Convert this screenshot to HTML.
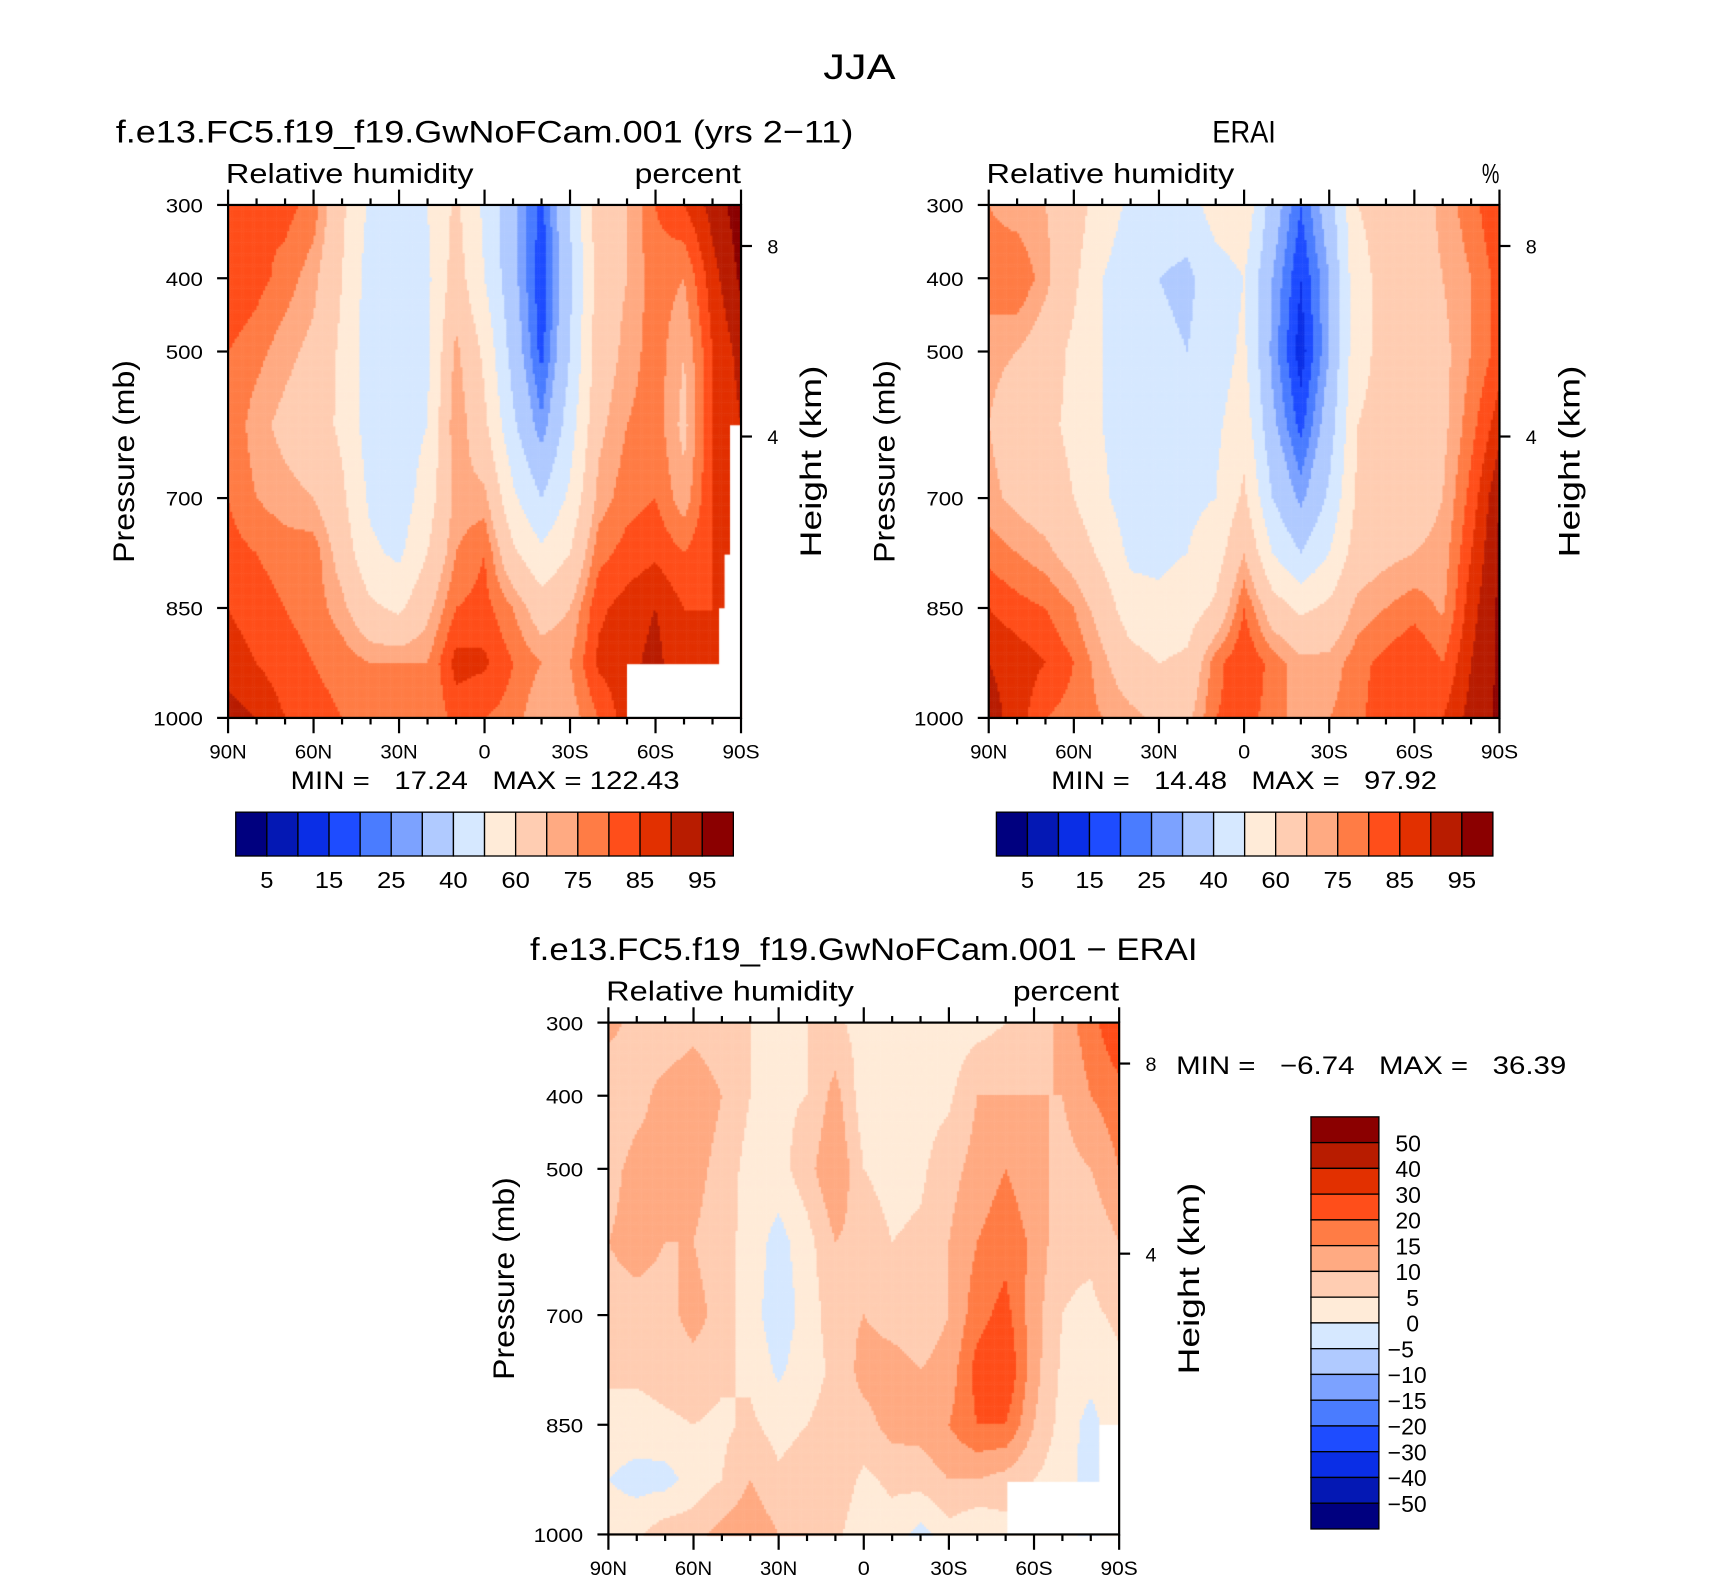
<!DOCTYPE html>
<html><head><meta charset="utf-8"><style>
html,body{margin:0;padding:0;background:#fff;}
#wrap{position:relative;width:1710px;height:1575px;}
canvas,svg{position:absolute;left:0;top:0;}
text{font-family:"Liberation Sans",sans-serif;fill:#000;white-space:pre;}
</style></head><body>
<div id="wrap">
<canvas id="cv" width="1710" height="1575"></canvas>
<svg id="sv" width="1710" height="1575" viewBox="0 0 1560 1437"></svg>
</div>
<script>
// ---- data ----
const lats = [90,80,70,60,50,40,30,20,10,0,-10,-20,-30,-40,-50,-60,-70,-80,-90];
const levels = [300,400,500,600,700,775,850,925,1000];
const rhLevels = [5,10,15,20,25,30,40,50,60,70,75,80,85,90,95];
const diffLevels = [-50,-40,-30,-20,-15,-10,-5,0,5,10,15,20,30,40,50];
const rhTickLabels = ["5","15","25","40","60","75","85","95"];
const diffTickLabels = ["50","40","30","20","15","10","5","0","\u22125","\u221210","\u221215","\u221220","\u221230","\u221240","\u221250"];
const xTickLabels = ["90N","60N","30N","0","30S","60S","90S"];
const pTickLabels = [300,400,500,700,850,1000];
// each row = one latitude (90N..90S), values at levels 300..1000
const modelRH = [
[85,85,80,80,80,82,85,88,92],
[80,82,77,72,75,80,82,85,90],
[82,78,72,68,72,78,80,82,85],
[78,72,68,65,70,78,78,80,82],
[62,60,58,58,62,66,72,78,80],
[48,45,45,45,48,52,62,75,78],
[45,45,45,45,44,48,58,75,78],
[50,48,48,50,55,60,68,75,75],
[62,65,72,75,72,75,80,87,82],
[48,50,58,62,72,80,82,86,80],
[32,33,36,42,52,62,75,80,78],
[18,16,18,26,40,52,65,75,70],
[40,38,40,45,52,60,70,75,72],
[65,65,65,68,72,78,84,86,80],
[70,70,72,75,78,82,87,88,88],
[80,78,78,78,80,84,90,92,92],
[85,75,70,68,72,80,85,85,85],
[92,88,85,85,85,85,85,85,85],
[98,96,92,90,90,90,90,90,90]];
const eraRH = [
[75,78,72,70,72,78,85,90,92],
[72,80,70,65,68,75,82,88,88],
[70,72,65,62,65,72,80,85,80],
[65,62,58,58,60,66,75,80,78],
[55,50,50,50,52,58,66,72,75],
[48,45,45,45,45,48,54,64,72],
[45,40,42,45,45,48,52,60,68],
[45,38,40,45,48,50,55,62,68],
[55,45,45,48,50,55,62,78,80],
[58,50,52,56,62,70,80,85,82],
[35,30,28,32,40,50,65,78,78],
[20,15,12,18,28,40,58,72,72],
[35,30,30,35,42,50,62,72,75],
[60,58,58,60,62,65,72,78,78],
[62,62,62,62,64,68,75,82,85],
[65,65,65,64,66,70,78,85,82],
[72,70,68,68,70,72,74,80,85],
[78,75,75,78,82,85,88,90,92],
[85,82,82,88,95,96,96,96,96]];
const diffRH = [
[12,5,8,10,8,6,3,0,3],
[8,8,12,12,8,6,3,-2,4],
[6,12,12,10,8,7,4,-2,8],
[8,14,12,10,12,8,5,2,8],
[6,10,8,7,8,6,4,5,12],
[5,5,3,3,2,4,6,10,14],
[4,4,3,-2,-3,-1,3,6,10],
[5,5,8,3,2,3,5,8,10],
[6,12,15,10,8,6,7,8,6],
[3,2,5,8,10,12,8,4,2],
[2,3,3,5,8,12,12,6,3],
[3,3,4,6,7,10,12,7,-2],
[2,4,8,10,10,12,15,10,3],
[3,10,12,15,18,22,20,10,0],
[5,10,15,18,22,25,20,8,3],
[5,10,12,14,12,12,10,5,3],
[12,10,8,6,5,4,3,2,2],
[18,15,10,6,4,2,-2,-2,-2],
[25,18,15,10,6,4,4,4,4]];
const palette = ["#00007f","#0418b4","#0a2ee6","#1e4cff","#4a7cff","#7ca2ff","#b0caff","#d6e8ff","#ffebd8","#ffcdb2","#ffaa82","#ff7c45","#ff4e1a","#e23000","#b81c00","#8b0000"];

// ---- layout (in 1560x1437 viewBox units) ----
const panels = [
 {x0:208,x1:676,y0:187,y1:655,data:modelRH,lev:rhLevels,name:"model",
  title:"f.e13.FC5.f19_f19.GwNoFCam.001 (yrs 2\u221211)",titleW:673,units:"percent",unitsW:97,
  masks:[[666,388,676,655],[661,506,676,655],[656,555,676,655],[572,606,676,655]]},
 {x0:902,x1:1368,y0:187,y1:655,data:eraRH,lev:rhLevels,name:"erai",title:"ERAI",titleW:58,units:"%",unitsW:16,masks:[]},
 {x0:555,x1:1021,y0:933,y1:1400,data:diffRH,lev:diffLevels,name:"difference",
  title:"f.e13.FC5.f19_f19.GwNoFCam.001 \u2212 ERAI",titleW:609,units:"percent",unitsW:97,
  masks:[[919,1352,1021,1400],[1003,1300,1021,1400]]}
];
const SX=1710/1560, SY=1575/1437;
const cv=document.getElementById('cv'); const ctx=cv.getContext('2d');
ctx.scale(SX,SY);
function colorFor(v,lev){let i=0;while(i<lev.length&&v>=lev[i])i++;return palette[i];}
function sample(data,lat,p){
  let fi=(90-lat)/10; let i0=Math.min(17,Math.max(0,Math.floor(fi))); let ti=fi-i0;
  let j0=0; while(j0<levels.length-2&&p>levels[j0+1])j0++;
  let tj=(p-levels[j0])/(levels[j0+1]-levels[j0]); tj=Math.max(0,Math.min(1,tj));
  const a=data[i0][j0],b=data[i0+1][j0],c=data[i0][j0+1],d=data[i0+1][j0+1];
  return (a*(1-ti)+b*ti)*(1-tj)+(c*(1-ti)+d*ti)*tj;
}
const svg=document.getElementById('sv'); const NS="http://www.w3.org/2000/svg";
function el(tag,attrs,parent){const e=document.createElementNS(NS,tag);for(const k in attrs)e.setAttribute(k,attrs[k]);(parent||svg).appendChild(e);return e;}
function txt(s,x,y,size,anchor,parent,rot,len){const t=el('text',{x:x,y:y,'font-size':size,'text-anchor':anchor||'start'},parent);
  if(len){t.setAttribute('textLength',len);t.setAttribute('lengthAdjust','spacingAndGlyphs');}
  if(rot)t.setAttribute('transform',`rotate(${rot} ${x} ${y})`);t.textContent=s;return t;}

const tt=txt("JJA",784,72,32,'middle',null,0,66);



panels.forEach(P=>{
  const xs=lat=>P.x0+(90-lat)/180*(P.x1-P.x0);
  const ys=p=>P.y0+(p-300)/700*(P.y1-P.y0);
  const step=2;
  for(let px=P.x0;px<P.x1;px+=step){
    const lat=90-(px+step/2-P.x0)/(P.x1-P.x0)*180;
    for(let py=P.y0;py<P.y1;py+=step){
      const p=300+(py+step/2-P.y0)/(P.y1-P.y0)*700;
      ctx.fillStyle=colorFor(sample(P.data,lat,p),P.lev);
      ctx.fillRect(px,py,step+0.5,step+0.5);
    }
  }
  ctx.fillStyle="#fff";
  P.masks.forEach(m=>ctx.fillRect(m[0],m[1],m[2]-m[0],m[3]-m[1]));
  const g=el('g',{});
  
  
  el('rect',{x:P.x0,y:P.y0,width:P.x1-P.x0,height:P.y1-P.y0,fill:'none',stroke:'#000','stroke-width':2},g);
  for(let lat=90;lat>=-90;lat-=10){
    const x=xs(lat),maj=(lat%30===0),L=maj?14:6;
    el('line',{x1:x,y1:P.y0,x2:x,y2:P.y0-L,stroke:'#000','stroke-width':2},g);
    el('line',{x1:x,y1:P.y1,x2:x,y2:P.y1+L,stroke:'#000','stroke-width':2},g);
  }
  xTickLabels.forEach((s,k)=>{const t=txt(s,xs(90-30*k),P.y1+37,18,'middle',g,0,s.length===1?11:34);
    
    });
  pTickLabels.forEach(p=>{
    el('line',{x1:P.x0,y1:ys(p),x2:P.x0-10,y2:ys(p),stroke:'#000','stroke-width':2},g);
    const s=String(p);
    const t=txt(s,P.x0-23,ys(p)+7,18,'end',g,0,s.length*11.3);
    
    
  });
  [[8,ys(356)],[4,ys(616)]].forEach(h=>{
    el('line',{x1:P.x1,y1:h[1],x2:P.x1+10,y2:h[1],stroke:'#000','stroke-width':2},g);
    txt(String(h[0]),P.x1+24,h[1]+7,18,'start',g);
  });
  const yc=(P.y0+P.y1)/2;
  const pa=txt("Pressure (mb)",P.x0-86,yc,27,'middle',g,-90,185);
  
  
  const ha=txt("Height (km)",P.x1+73,yc,27,'middle',g,-90,175);
  
  
  const st=txt(P.title,(P.x0+P.x1)/2,P.y0-57,29,'middle',g,0,P.titleW);
  
  
  txt("Relative humidity",P.x0-2,P.y0-20,25,'start',g,0,226);
  txt(P.units,P.x1,P.y0-20,25,'end',g,0,P.unitsW);
});
txt("MIN =   17.24   MAX = 122.43",265,720,23,'start',null,0,355);
txt("MIN =   14.48   MAX =   97.92",959,720,23,'start',null,0,352);
txt("MIN =   \u22126.74   MAX =   36.39",1073,980,23,'start',null,0,356);
[[215,669],[909,1362]].forEach((c,ci)=>{
  const g=el('g',{});
  
  
  const w=(c[1]-c[0])/16;
  palette.forEach((col,i)=>el('rect',{x:c[0]+i*w,y:741,width:w,height:40,fill:col,stroke:'#000','stroke-width':1.2},g));
  rhTickLabels.forEach((s,k)=>txt(s,c[0]+(2*k+1)*w,810,21,'middle',g,0,s.length===1?12:26));
});
{const g=el('g',{});
 
 
 const y0=1019,h=(1395-1019)/16;
 palette.slice().reverse().forEach((col,i)=>el('rect',{x:1196,y:y0+i*h,width:62,height:h,fill:col,stroke:'#000','stroke-width':1.2},g));
 diffTickLabels.forEach((s,k)=>txt(s,s.startsWith('\u2212')?1266:(s.length===1?1283:1273),y0+(k+1)*h+8,21,'start',g));
}
</script>
</body></html>
